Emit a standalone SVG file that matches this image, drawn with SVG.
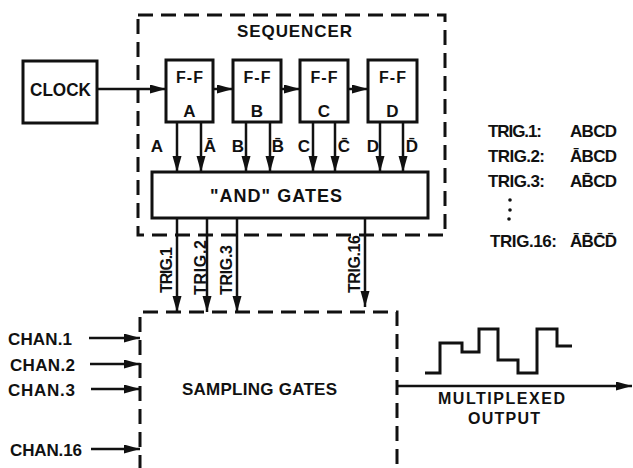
<svg xmlns="http://www.w3.org/2000/svg" width="633" height="468" viewBox="0 0 633 468">
<style>
text{font-family:"Liberation Sans","DejaVu Sans",sans-serif;font-weight:bold;fill:#111;}
.box{fill:#fff;stroke:#111;stroke-width:3;}
.dash{fill:none;stroke:#111;stroke-width:3;stroke-dasharray:15 8;}
.ar{fill:none;stroke:#111;stroke-width:2.5;marker-end:url(#ah);}
</style>
<defs>
<marker id="ah" markerUnits="userSpaceOnUse" markerWidth="18" markerHeight="10" refX="16" refY="4.5" orient="auto">
<path d="M0,0 L16,4.5 L0,9 z" fill="#111"/>
</marker>
</defs>
<rect width="633" height="468" fill="#fff"/>

<g id="sequencer">
<rect class="dash" x="138" y="15" width="307" height="220"/>
<text x="294.5" y="37" font-size="17" text-anchor="middle" textLength="115">SEQUENCER</text>
</g>

<g id="sampling-gates">
<path class="dash" d="M140,470 V312 H397 V470"/>
<text x="182" y="395" font-size="17" textLength="155">SAMPLING  GATES</text>
</g>

<g id="connectors">
<path class="ar" d="M97,89 H166"/>
<path class="ar" d="M213,89 H233"/>
<path class="ar" d="M281,89 H300"/>
<path class="ar" d="M348,89 H368"/>
<path class="ar" d="M177,122 V172"/>
<path class="ar" d="M201,122 V172"/>
<path class="ar" d="M246,122 V172"/>
<path class="ar" d="M270,122 V172"/>
<path class="ar" d="M313,122 V172"/>
<path class="ar" d="M335,122 V172"/>
<path class="ar" d="M380,122 V172"/>
<path class="ar" d="M403,122 V172"/>
<path class="ar" d="M177,218 V312"/>
<path class="ar" d="M207,218 V312"/>
<path class="ar" d="M237,218 V312"/>
<path class="ar" d="M365,218 V307"/>
<path class="ar" d="M89,338 H140"/>
<path class="ar" d="M90,364 H140"/>
<path class="ar" d="M91,389 H140"/>
<path class="ar" d="M91,449 H140"/>
<path class="ar" d="M397,386 H632"/>
</g>

<g id="clock">
<rect class="box" x="23" y="61" width="74" height="62"/>
<text x="60.5" y="96" font-size="18" text-anchor="middle" textLength="61" lengthAdjust="spacingAndGlyphs">CLOCK</text>
</g>

<g id="ff-a">
<rect class="box" x="166" y="60" width="47" height="62"/>
<text x="189.5" y="83" font-size="16" text-anchor="middle" textLength="27">F-F</text>
<text x="189.5" y="117" font-size="17" text-anchor="middle">A</text>
</g>
<g id="ff-b">
<rect class="box" x="233" y="60" width="48" height="62"/>
<text x="257" y="83" font-size="16" text-anchor="middle" textLength="27">F-F</text>
<text x="257" y="117" font-size="17" text-anchor="middle">B</text>
</g>
<g id="ff-c">
<rect class="box" x="300" y="60" width="48" height="62"/>
<text x="324" y="83" font-size="16" text-anchor="middle" textLength="27">F-F</text>
<text x="324" y="117" font-size="17" text-anchor="middle">C</text>
</g>
<g id="ff-d">
<rect class="box" x="368" y="60" width="49" height="62"/>
<text x="392.5" y="83" font-size="16" text-anchor="middle" textLength="27">F-F</text>
<text x="392.5" y="117" font-size="17" text-anchor="middle">D</text>
</g>

<g id="ff-outputs" font-size="17" text-anchor="middle">
<text x="157" y="152">A</text>
<text x="210" y="152">Ā</text>
<text x="238" y="152">B</text>
<text x="278" y="152">B̄</text>
<text x="304" y="152">C</text>
<text x="344" y="152">C̄</text>
<text x="373" y="152">D</text>
<text x="412" y="152">D̄</text>
</g>

<g id="and-gates">
<rect class="box" x="152" y="172" width="276" height="46"/>
<text x="276" y="202" font-size="18" text-anchor="middle" textLength="132">"AND"  GATES</text>
</g>

<g id="trig-labels" font-size="16">
<text transform="translate(172,293) rotate(-90)" textLength="46">TRIG.1</text>
<text transform="translate(206,295) rotate(-90)" textLength="55">TRIG.2</text>
<text transform="translate(232,295) rotate(-90)" textLength="50">TRIG.3</text>
<text transform="translate(360,293) rotate(-90)" textLength="58">TRIG.16</text>
</g>

<g id="chan-labels" font-size="17">
<text x="8" y="345" textLength="64">CHAN.1</text>
<text x="10" y="371" textLength="65">CHAN.2</text>
<text x="8" y="396" textLength="67">CHAN.3</text>
<text x="10" y="456" textLength="72">CHAN.16</text>
</g>

<g id="output">
<polyline class="box" style="fill:none" points="425,373 440,373 440,343 462,343 462,352 479,352 479,329 498,329 498,360 518,360 518,373 537,373 537,329 557,329 557,346 572,346"/>
<text x="501.5" y="404" font-size="16" text-anchor="middle" textLength="127">MULTIPLEXED</text>
<text x="504" y="424" font-size="16" text-anchor="middle" textLength="72">OUTPUT</text>
</g>

<g id="trig-table" font-size="17">
<text x="488" y="137" textLength="54">TRIG.1:</text>
<text x="570" y="137" textLength="47">ABCD</text>
<text x="488" y="162" textLength="57">TRIG.2:</text>
<text x="570" y="162" textLength="47">ĀBCD</text>
<text x="488" y="187" textLength="57">TRIG.3:</text>
<text x="570" y="187" textLength="47">AB̄CD</text>
<circle cx="510" cy="200" r="1.8" fill="#111"/>
<circle cx="510" cy="210" r="1.8" fill="#111"/>
<circle cx="509" cy="219" r="1.8" fill="#111"/>
<text x="490" y="247" textLength="67">TRIG.16:</text>
<text x="570" y="247" textLength="47">ĀB̄C̄D̄</text>
</g>
</svg>
